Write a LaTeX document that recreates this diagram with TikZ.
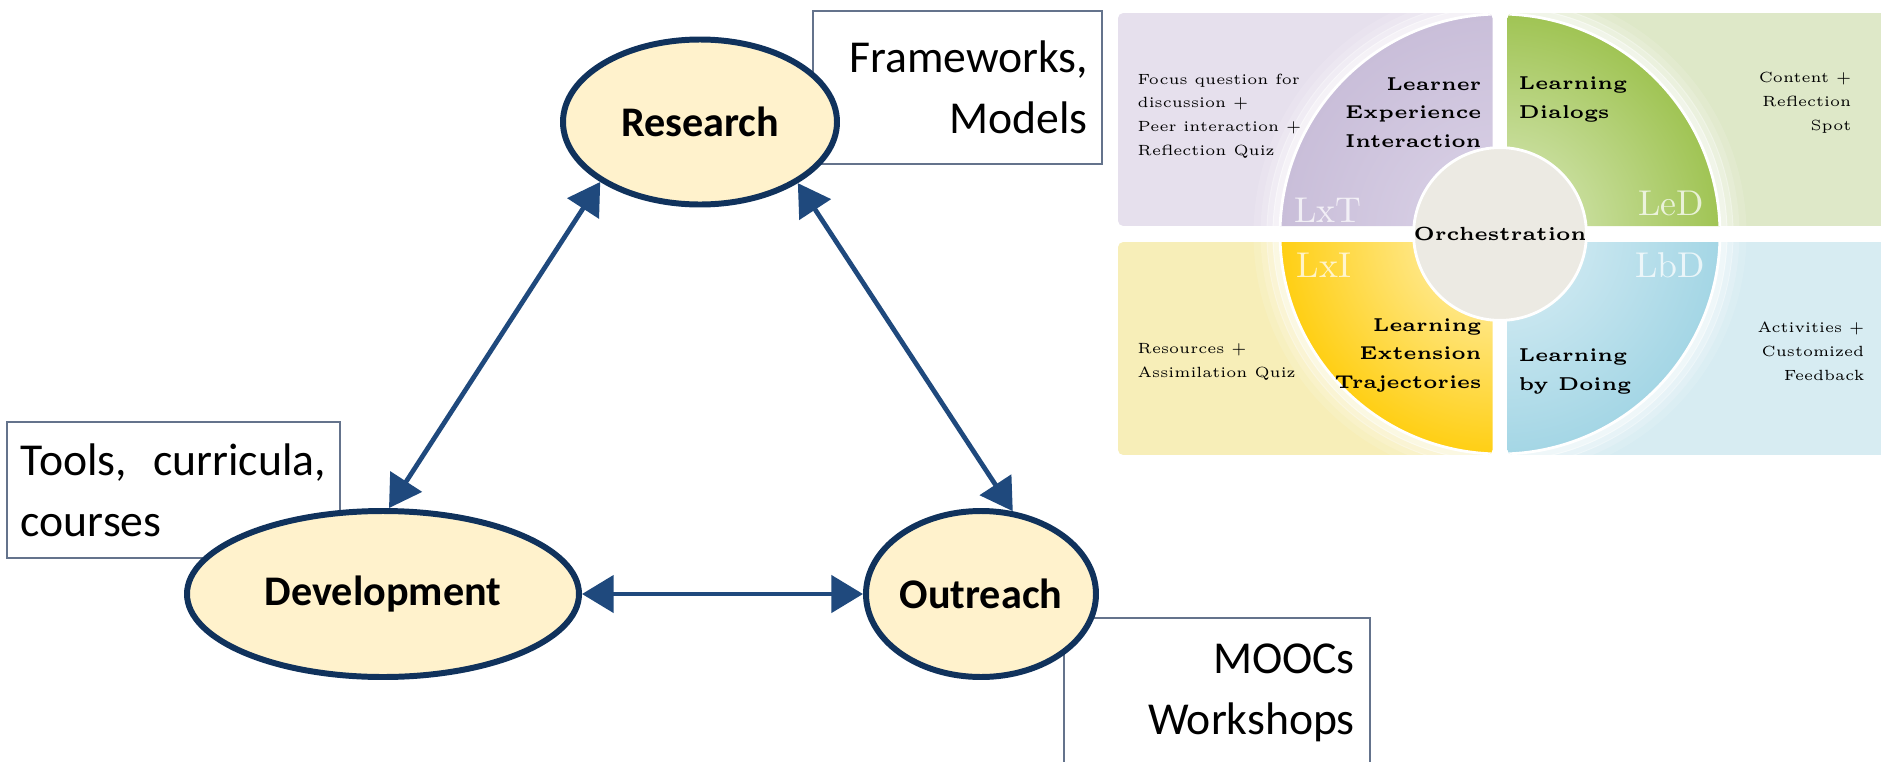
\documentclass[tikz,border=0pt]{standalone}
\usepackage{fontspec}
\newfontfamily\carlito{Carlito}
\usetikzlibrary{shapes.geometric,arrows.meta,positioning}
\definecolor{nodenavy}{RGB}{16,50,92}
\definecolor{nodecream}{RGB}{255,242,204}
\definecolor{arrowblue}{RGB}{31,73,125}
\definecolor{noteline}{RGB}{100,115,140}
\definecolor{lxtlite}{RGB}{230,224,237}
\definecolor{lxtin}{RGB}{220,212,232}
\definecolor{lxtout}{RGB}{201,190,217}
\definecolor{ledlite}{RGB}{222,232,200}
\definecolor{ledin}{RGB}{222,236,196}
\definecolor{ledout}{RGB}{160,196,84}
\definecolor{lxilite}{RGB}{247,238,184}
\definecolor{lxiin}{RGB}{255,244,196}
\definecolor{lxiout}{RGB}{255,207,20}
\definecolor{lbdlite}{RGB}{215,236,242}
\definecolor{lbdin}{RGB}{222,240,246}
\definecolor{lbdout}{RGB}{164,214,229}
\definecolor{orchgrey}{RGB}{236,234,227}

\tikzset{
    pillar/.style={ellipse, draw=nodenavy, line width=1.7pt, fill=nodecream, inner sep=0pt,
        font=\carlito\fontsize{12}{14}\selectfont\bfseries},
    note/.style={draw=noteline, line width=0.5pt, fill=white, inner ysep=0pt, inner xsep=0.14cm,
        font=\carlito\fontsize{13}{17.4}\selectfont},
    link/.style={{Triangle[length=9pt,width=10.5pt]}-{Triangle[length=9pt,width=10.5pt]},
        line width=1.35pt, arrowblue},
    qtitle/.style={font=\fontsize{5.3}{8}\selectfont\bfseries, inner sep=0pt},
    qnote/.style={font=\fontsize{4.2}{6.7}\selectfont, inner sep=0pt},
    qtag/.style={font=\fontsize{10.2}{12}\selectfont, text=white, text opacity=0.75, inner sep=0pt, anchor=base},
}

\begin{document}
\begin{tikzpicture}
    \useasboundingbox (0,0) rectangle (18.81,7.61);

    % notes behind the triad
    \node[note, anchor=north west, text width=2.61cm, minimum height=1.53cm, align=right]
        (frameworks) at (8.12,7.51) {Frameworks,\\Models};
    \node[note, anchor=north west, text width=3.05cm, minimum height=1.36cm, align=justify]
        (tools) at (0.06,3.40) {Tools, curricula, courses};
    \node[note, anchor=north west, text width=2.76cm, minimum height=1.5cm, align=right, inner xsep=0.15cm]
        (moocs) at (10.63,1.44) {MOOCs\\Workshops};

    % triad
    \node[pillar, minimum width=2.74cm, minimum height=1.65cm] (research) at (7.00,6.39) {Research};
    \node[pillar, minimum width=3.92cm, minimum height=1.66cm] (development) at (3.83,1.67) {Development};
    \node[pillar, minimum width=2.16cm, minimum height=1.66cm] (outreach) at (9.81,1.67) {Outreach};

    \draw[link] (research.211) -- (development.86);
    \draw[link] (research.328) -- (outreach.69);
    \draw[link] (development.east) -- (outreach.west);

    \begin{scope}[shift={(15.00,5.27)}]
        % quadrant panels
        \foreach \qx/\qy/\qw/\qlite/\qin/\qout in {-1/1/3.82/lxtlite/lxtin/lxtout, 1/1/3.95/ledlite/ledin/ledout,
                -1/-1/3.82/lxilite/lxiin/lxiout, 1/-1/3.95/lbdlite/lbdin/lbdout} {
            \begin{scope}
                \clip[rounded corners=1.5pt] (\qx*0.075,\qy*0.08) rectangle (\qx*\qw,\qy*2.21);
                \fill[\qlite] (\qx*0.075,\qy*0.08) rectangle (\qx*\qw,\qy*2.21);
                \foreach \r/\o in {2.24/0.6, 2.30/0.4, 2.36/0.25, 2.43/0.12}
                    \draw[white, opacity=\o, line width=0.7mm] (0,0) circle (\r);
                \shade[inner color=\qin, outer color=\qout] (0,0) circle (2.2);
                \draw[white, line width=0.8pt] (0,0) circle (2.2);
            \end{scope}
        }

        \node[circle, fill=orchgrey, draw=white, line width=0.8pt, minimum size=1.66cm, inner sep=0pt,
            font=\fontsize{5.4}{7}\selectfont\bfseries] (orch) at (0,0) {Orchestration};

        \node[qtag] (lxt) at (-1.72,0.12) {LxT};
        \node[qtag] (led) at (1.71,0.19) {LeD};
        \node[qtag] (lxi) at (-1.76,-0.43) {LxI};
        \node[qtag] (lbd) at (1.70,-0.43) {LbD};

        \node[qtitle, anchor=base east, align=right] (lei) at (-0.18,0.87) {Learner\\Experience\\Interaction};
        \node[qtitle, anchor=base west, align=left] (ldi) at (0.18,1.16) {Learning\\Dialogs};
        \node[qtitle, anchor=base east, align=right] (let) at (-0.18,-1.54) {Learning\\Extension\\Trajectories};
        \node[qtitle, anchor=base west, align=left] (lbdo) at (0.18,-1.56) {Learning\\by Doing};

        \node[qnote, anchor=base west, align=left] (focus) at (-3.63,0.79)
            {Focus question for\\discussion +\\Peer interaction +\\Reflection Quiz};
        \node[qnote, anchor=base east, align=right] (content) at (3.52,1.04) {Content +\\Reflection\\Spot};
        \node[qnote, anchor=base west, align=left] (resources) at (-3.63,-1.43) {Resources +\\Assimilation Quiz};
        \node[qnote, anchor=base east, align=right] (activities) at (3.65,-1.46) {Activities +\\Customized\\Feedback};
    \end{scope}
\end{tikzpicture}
\end{document}
